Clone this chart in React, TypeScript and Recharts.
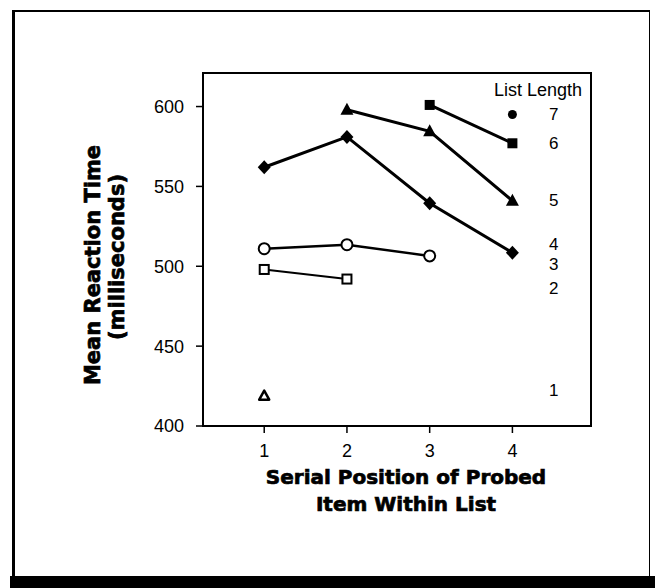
import { ComposedChart, Line, XAxis, YAxis, Scatter, ReferenceArea, ReferenceDot } from 'recharts';

// Serial position of the probed item (x axis)
const serialPositions = [1, 2, 3, 4];

// Mean reaction time (ms) per list length, starting at the first plotted position
const rtLen1 = [419];
const rtLen2 = [498, 492];
const rtLen3 = [511, 513.5, 506.5];
const rtLen4 = [562, 581, 539.5, 508.5];
const rtLen5 = [598, 584.5, 541];
const rtLen6 = [601, 577];
const rtLen7 = [595];

const firstPosition = [1, 1, 1, 1, 2, 3, 4];

// List-length key column: label and the RT level it sits at
const listLengths = [1, 2, 3, 4, 5, 6, 7];
const keyLevels = [422, 486, 501, 513.5, 541, 577, 595];

const yTicks = [400, 450, 500, 550, 600];

const X_DOMAIN: [number, number] = [0.26, 4.95];
const Y_DOMAIN: [number, number] = [400, 621];
const KEY_X = 4.5;

const TICK_FONT = '"Liberation Sans", Arial, sans-serif';
const TITLE_FONT = '"DejaVu Sans", sans-serif';

type Kind = 'openTriangle' | 'openSquare' | 'openCircle' | 'diamond' | 'triangle' | 'square' | 'dot';

const seriesStyle: { kind: Kind; width: number }[] = [
  { kind: 'openTriangle', width: 2 },
  { kind: 'openSquare', width: 2 },
  { kind: 'openCircle', width: 2.5 },
  { kind: 'diamond', width: 3 },
  { kind: 'triangle', width: 3 },
  { kind: 'square', width: 3 },
  { kind: 'dot', width: 3 },
];

const allSeries = [rtLen1, rtLen2, rtLen3, rtLen4, rtLen5, rtLen6, rtLen7].map((vals, i) =>
  vals.map((y, j) => ({ x: serialPositions[firstPosition[i] - 1 + j], y }))
);

const keyData = listLengths.map((n, i) => ({ x: KEY_X, y: keyLevels[i], n }));

function Marker({ cx, cy, kind }: { cx: number; cy: number; kind: Kind }) {
  if (cx == null || cy == null) return null;
  switch (kind) {
    case 'square':
      return <rect x={cx - 5} y={cy - 5} width={10} height={10} fill="#000" />;
    case 'openSquare':
      return <rect x={cx - 4.5} y={cy - 4.5} width={9} height={9} fill="#fff" stroke="#000" strokeWidth={2} />;
    case 'triangle':
      return <polygon points={`${cx},${cy - 7} ${cx + 6.5},${cy + 5} ${cx - 6.5},${cy + 5}`} fill="#000" />;
    case 'openTriangle':
      return (
        <polygon
          points={`${cx},${cy - 5} ${cx + 5},${cy + 4} ${cx - 5},${cy + 4}`}
          fill="#fff"
          stroke="#000"
          strokeWidth={2.5}
          strokeLinejoin="round"
        />
      );
    case 'diamond':
      return <polygon points={`${cx},${cy - 7} ${cx + 6.5},${cy} ${cx},${cy + 7} ${cx - 6.5},${cy}`} fill="#000" />;
    case 'openCircle':
      return <circle cx={cx} cy={cy} r={5.5} fill="#fff" stroke="#000" strokeWidth={2} />;
    default:
      return <circle cx={cx} cy={cy} r={4.5} fill="#000" />;
  }
}

function XTitle(props: any) {
  const { x, y, width } = props.viewBox;
  const cx = x + width / 2 + 9;
  const style = { fontFamily: TITLE_FONT, fontWeight: 700, fontSize: 20 };
  return (
    <text textAnchor="middle" fill="#000" stroke="#000" strokeWidth={0.7} style={style}>
      <tspan x={cx} y={y + 58}>Serial Position of Probed</tspan>
      <tspan x={cx} y={y + 85}>Item Within List</tspan>
    </text>
  );
}

function YTitle() {
  const style = { fontFamily: TITLE_FONT, fontWeight: 700, fontSize: 21 };
  return (
    <g fill="#000" stroke="#000" strokeWidth={0.7} style={style}>
      <text textAnchor="middle" transform="translate(100, 265) rotate(-90)">Mean Reaction Time</text>
      <text textAnchor="middle" transform="translate(124, 257) rotate(-90)">(milliseconds)</text>
    </g>
  );
}

export default function App() {
  return (
    <div style={{ position: 'absolute', left: 0, top: 0, width: 655, height: 588, background: '#fff' }}>
      {/* figure frame */}
      <div
        style={{
          position: 'absolute',
          left: 12,
          top: 10,
          width: 634,
          height: 566,
          borderLeft: '3px solid #000',
          borderTop: '2px solid #000',
          borderRight: '1px solid #000',
        }}
      />
      <div style={{ position: 'absolute', left: 10, top: 576, width: 645, height: 12, background: '#000' }} />

      <div style={{ position: 'absolute', left: 0, top: 0 }}>
        <ComposedChart width={655} height={588} margin={{ top: 73, right: 64, bottom: 62, left: 0 }}>
          <XAxis
            type="number"
            dataKey="x"
            domain={X_DOMAIN}
            ticks={serialPositions}
            allowDataOverflow
            height={100}
            tickSize={7}
            tickMargin={11}
            axisLine={{ stroke: '#000', strokeWidth: 2 }}
            tickLine={{ stroke: '#000', strokeWidth: 1.5 }}
            tick={{ fill: '#000', fontSize: 18, fontFamily: TICK_FONT }}
            label={<XTitle />}
          />
          <YAxis
            type="number"
            domain={Y_DOMAIN}
            ticks={yTicks}
            allowDataOverflow
            width={203}
            tickSize={7}
            tickMargin={12}
            axisLine={{ stroke: '#000', strokeWidth: 2 }}
            tickLine={{ stroke: '#000', strokeWidth: 1.5 }}
            tick={{ fill: '#000', fontSize: 18, fontFamily: TICK_FONT }}
            label={<YTitle />}
          />
          <ReferenceArea
            x1={X_DOMAIN[0]}
            x2={X_DOMAIN[1]}
            y1={Y_DOMAIN[0]}
            y2={Y_DOMAIN[1]}
            fill="none"
            stroke="#000"
            strokeWidth={2}
            ifOverflow="visible"
          />
          {allSeries.map((data, i) => (
            <Line
              key={`len-${i + 1}`}
              data={data}
              dataKey="y"
              stroke="#000"
              strokeWidth={seriesStyle[i].width}
              isAnimationActive={false}
              dot={(p: any) => <Marker key={`m-${i}-${p.index}`} cx={p.cx} cy={p.cy} kind={seriesStyle[i].kind} />}
              activeDot={false}
            />
          ))}
          <Scatter
            data={keyData}
            dataKey="y"
            isAnimationActive={false}
            shape={(p: any) => (
              <text
                x={p.cx}
                y={p.cy}
                textAnchor="middle"
                dominantBaseline="central"
                fill="#000"
                fontSize={17}
                fontFamily={TICK_FONT}
              >
                {p.payload.n}
              </text>
            )}
          />
          <ReferenceDot
            x={4.31}
            y={610.6}
            ifOverflow="visible"
            shape={(p: any) => (
              <text
                x={p.cx}
                y={p.cy}
                textAnchor="middle"
                dominantBaseline="central"
                fill="#000"
                fontSize={18}
                fontFamily={TICK_FONT}
              >
                List Length
              </text>
            )}
          />
        </ComposedChart>
      </div>
    </div>
  );
}
